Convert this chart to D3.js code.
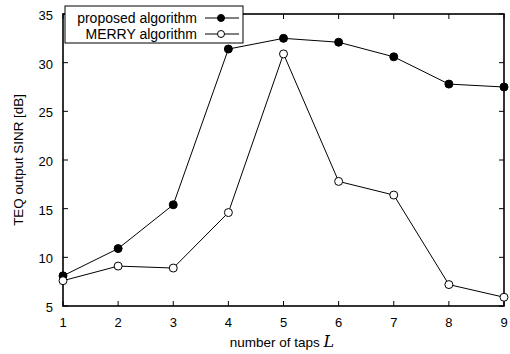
<!DOCTYPE html>
<html>
<head>
<meta charset="utf-8">
<script src="https://cdn.jsdelivr.net/npm/d3@7"></script>
<style>
  html, body { margin: 0; padding: 0; background: #fff; }
  svg { display: block; font-family: "Liberation Sans", Arial, sans-serif; }
</style>
</head>
<body>
<svg id="chart" width="510" height="354"></svg>
<script>
// Number of TEQ taps
const taps = [1, 2, 3, 4, 5, 6, 7, 8, 9];
// Output SINR [dB] for each algorithm
const proposedSINR = [8.1, 10.9, 15.4, 31.4, 32.5, 32.1, 30.6, 27.8, 27.5];
const merrySINR = [7.6, 9.1, 8.9, 14.6, 30.9, 17.8, 16.4, 7.2, 5.9];
const yTicks = [5, 10, 15, 20, 25, 30, 35];
const seriesNames = ["proposed algorithm", "MERRY algorithm"];

const svg = d3.select("#chart");
const margin = { left: 63, right: 6, top: 14, bottom: 48 };
const W = 510, H = 354;

const x = d3.scaleLinear().domain([1, 9]).range([margin.left, W - margin.right]);
const y = d3.scaleLinear().domain([5, 35]).range([H - margin.bottom, margin.top]);

const x0 = x.range()[0], x1 = x.range()[1];
const y0 = y.range()[0], y1 = y.range()[1];

// Tick marks pointing inward on all four sides
const tickLen = 5;
const tg = svg.append("g").attr("stroke", "#000").attr("stroke-width", 1);
taps.forEach(t => {
  tg.append("line").attr("x1", x(t)).attr("x2", x(t)).attr("y1", y0).attr("y2", y0 - tickLen);
  tg.append("line").attr("x1", x(t)).attr("x2", x(t)).attr("y1", y1).attr("y2", y1 + tickLen);
});
yTicks.forEach(v => {
  tg.append("line").attr("x1", x0).attr("x2", x0 + tickLen).attr("y1", y(v)).attr("y2", y(v));
  tg.append("line").attr("x1", x1).attr("x2", x1 - tickLen).attr("y1", y(v)).attr("y2", y(v));
});

// Frame
svg.append("rect")
  .attr("x", x0).attr("y", y1)
  .attr("width", x1 - x0).attr("height", y0 - y1)
  .attr("fill", "none").attr("stroke", "#000").attr("stroke-width", 1.6);

// Tick labels
svg.append("g").selectAll("text").data(taps).join("text")
  .attr("x", d => x(d)).attr("y", y0 + 21)
  .attr("text-anchor", "middle").attr("font-size", 13).text(d => d);
svg.append("g").selectAll("text").data(yTicks).join("text")
  .attr("x", x0 - 10).attr("y", d => y(d) + 6)
  .attr("text-anchor", "end").attr("font-size", 13).text(d => d);

// Axis titles
const xt = svg.append("text")
  .attr("x", 282).attr("y", 347)
  .attr("text-anchor", "middle").attr("font-size", 13.5);
xt.append("tspan").text("number of taps ");
xt.append("tspan").attr("font-family", "'DejaVu Serif', 'Liberation Serif', serif")
  .attr("font-style", "italic").attr("font-size", 16).text("L");

svg.append("text")
  .attr("transform", `translate(23,${(y0 + y1) / 2}) rotate(-90)`)
  .attr("text-anchor", "middle").attr("font-size", 13.4)
  .text("TEQ output SINR [dB]");

// Series
const line = d3.line().x((d, i) => x(taps[i])).y(d => y(d));
const series = [
  { name: seriesNames[0], values: proposedSINR, fill: "#000" },
  { name: seriesNames[1], values: merrySINR, fill: "#fff" }
];
series.forEach(s => {
  svg.append("path").datum(s.values).attr("d", line)
    .attr("fill", "none").attr("stroke", "#000").attr("stroke-width", 1);
  svg.append("g").selectAll("circle").data(s.values).join("circle")
    .attr("cx", (d, i) => x(taps[i])).attr("cy", d => y(d)).attr("r", 4)
    .attr("fill", s.fill).attr("stroke", "#000").attr("stroke-width", 1);
});

// Legend
const lg = svg.append("g");
lg.append("rect").attr("x", 65).attr("y", 6).attr("width", 178).attr("height", 37)
  .attr("fill", "#fff").attr("stroke", "#000").attr("stroke-width", 1);
series.forEach((s, i) => {
  const ly = 18 + i * 16;
  lg.append("text").attr("x", 197).attr("y", ly + 5)
    .attr("text-anchor", "end").attr("font-size", 14).text(s.name);
  lg.append("line").attr("x1", 205).attr("x2", 239).attr("y1", ly).attr("y2", ly)
    .attr("stroke", "#000").attr("stroke-width", 1);
  lg.append("circle").attr("cx", 221).attr("cy", ly).attr("r", 3.5)
    .attr("fill", s.fill).attr("stroke", "#000").attr("stroke-width", 1);
});
</script>
</body>
</html>
